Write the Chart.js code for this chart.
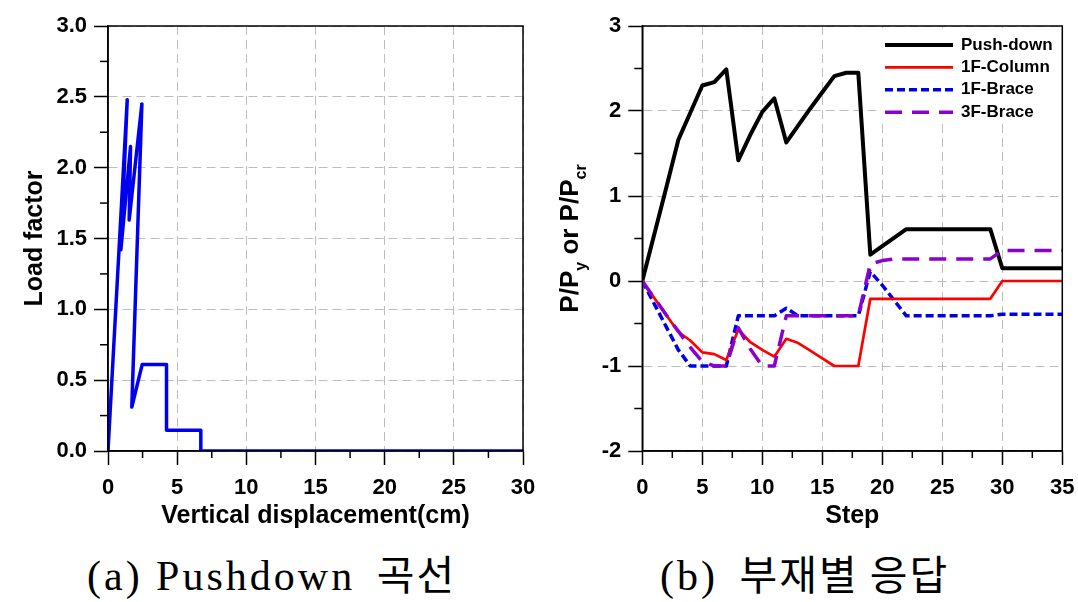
<!DOCTYPE html>
<html>
<head>
<meta charset="utf-8">
<script src="https://cdn.jsdelivr.net/npm/chart.js@4/dist/chart.umd.min.js"></script>
<style>
  body { margin: 0; background: #fff; width: 1078px; height: 602px; position: relative; overflow: hidden; }
  canvas { position: absolute; top: 0; }
  #leftChart { left: 0; }
  #rightChart { left: 540px; }
  .caption { position: absolute; top: 548px; font-family: "Liberation Serif", serif; font-size: 42px; line-height: 48px; letter-spacing: 3px; white-space: nowrap; color: #000; }
  .caption .ko { font-family: "Noto Sans CJK KR", sans-serif; font-size: 41px; letter-spacing: 2px; margin-left: 8px; }
</style>
</head>
<body>
<canvas id="leftChart" width="540" height="540"></canvas>
<canvas id="rightChart" width="538" height="540"></canvas>
<div class="caption" style="left:87px">(a) Pushdown <span class="ko">곡선</span></div>
<div class="caption" style="left:660px">(b) <span class="ko">부재별 응답</span></div>
<script>
// (a) pushdown curve: load factor vs vertical displacement
var dispCm     = [0, 1.39, 0.93, 1.63, 1.53, 2.45, 1.72, 2.47, 4.23, 4.23, 6.71, 6.71, 30];
var loadFactor = [0, 2.48, 1.42, 2.15, 1.63, 2.45, 0.31, 0.61, 0.61, 0.146, 0.146, 0, 0];
var dispTicks = [0, 5, 10, 15, 20, 25, 30];
var loadTicks = [0, 0.5, 1, 1.5, 2, 2.5, 3];

// (b) member responses per analysis step
var steps = [];
for (var i = 0; i <= 35; i++) steps.push(i);
var pushDown = [0, 0.55, 1.1, 1.66, 1.98, 2.30, 2.34, 2.49, 1.42, 1.72, 1.99, 2.15, 1.63, 1.83, 2.03, 2.22, 2.41, 2.45, 2.45,
  0.31, 0.41, 0.51, 0.61, 0.61, 0.61, 0.61, 0.61, 0.61, 0.61, 0.61, 0.15, 0.15, 0.15, 0.15, 0.15, 0.15];
var column1F = [0, -0.2, -0.4, -0.6, -0.7, -0.84, -0.86, -0.93, -0.57, -0.72, -0.81, -0.89, -0.68, -0.73, -0.82, -0.91, -1, -1, -1,
  -0.21, -0.21, -0.21, -0.21, -0.21, -0.21, -0.21, -0.21, -0.21, -0.21, -0.21, 0, 0, 0, 0, 0, 0];
var brace1F = [0, -0.27, -0.54, -0.81, -1, -1, -1, -1, -0.41, -0.41, -0.41, -0.41, -0.32, -0.41, -0.41, -0.41, -0.41, -0.41, -0.41,
  0.11, -0.05, -0.23, -0.41, -0.41, -0.41, -0.41, -0.41, -0.41, -0.41, -0.41, -0.39, -0.39, -0.39, -0.39, -0.39, -0.39];
var brace3F = [0, -0.2, -0.4, -0.59, -0.78, -0.95, -1, -1, -0.55, -0.8, -1, -1, -0.41, -0.41, -0.41, -0.41, -0.41, -0.41, -0.41,
  0.2, 0.24, 0.26, 0.26, 0.26, 0.26, 0.26, 0.26, 0.26, 0.26, 0.26, 0.36, 0.36, 0.36, 0.36, 0.36, 0.36];
var seriesNames = ['Push-down', '1F-Column', '1F-Brace', '3F-Brace'];
var stepTicks = [0, 5, 10, 15, 20, 25, 30, 35];
var ratioTicks = [-2, -1, 0, 1, 2, 3];
var ratioTitle = [['P/P', 0], ['y', 1], [' or P/P', 0], ['cr', 1]];

var FONT = '"Liberation Sans", Arial, sans-serif';
var tickFont = { family: FONT, size: 22, weight: 'bold' };
var titleFont = { family: FONT, size: 25, weight: 'bold', lineHeight: 1.2 };

function xy(xs, ys) {
  return xs.map(function (x, i) { return { x: x, y: ys[i] }; });
}

function fixedTicks(values) {
  return function (scale) {
    scale.ticks = values.map(function (v) { return { value: v }; });
  };
}

function axis(pos, min, max, ticks, size, fmt, title) {
  return {
    type: 'linear',
    position: pos,
    min: min,
    max: max,
    afterBuildTicks: fixedTicks(ticks),
    afterFit: function (s) {
      if (pos === 'left') s.width = size; else s.height = size;
      // keep the plot box where the layout padding puts it
      s.paddingLeft = 0; s.paddingRight = 0; s.paddingTop = 0; s.paddingBottom = 0;
    },
    grid: { color: '#bdbdbd', lineWidth: 1, tickLength: 14, tickColor: '#000', tickWidth: 1.5 },
    border: { color: '#000', width: 1.5, dash: [9, 5] },
    ticks: { color: '#000', font: tickFont, padding: pos === 'left' ? 7 : 10, maxRotation: 0, autoSkip: false, callback: fmt },
    title: title
  };
}

// short ticks half way between the labelled ones
var minorTicks = {
  id: 'minorTicks',
  afterDraw: function (chart) {
    var ctx = chart.ctx;
    ctx.save();
    ctx.strokeStyle = '#000';
    ctx.lineWidth = 1.5;
    ['x', 'y'].forEach(function (id) {
      var s = chart.scales[id];
      for (var i = 0; i < s.ticks.length - 1; i++) {
        var p = s.getPixelForValue((s.ticks[i].value + s.ticks[i + 1].value) / 2);
        ctx.beginPath();
        if (id === 'y') { ctx.moveTo(s.right, p); ctx.lineTo(s.right - 8, p); }
        else { ctx.moveTo(p, s.top); ctx.lineTo(p, s.top + 7); }
        ctx.stroke();
      }
    });
    ctx.restore();
  }
};

var frame = {
  id: 'frame',
  afterDraw: function (chart) {
    var a = chart.chartArea, ctx = chart.ctx;
    ctx.save();
    ctx.strokeStyle = '#000';
    ctx.lineWidth = 1.5;
    ctx.strokeRect(a.left, a.top, a.right - a.left, a.bottom - a.top);
    ctx.restore();
  }
};

var boxLegend = {
  id: 'boxLegend',
  afterDatasetsDraw: function (chart) {
    var ctx = chart.ctx;
    ctx.save();
    ctx.fillStyle = '#fff';
    ctx.fillRect(338, 28, 183, 96);
    chart.data.datasets.forEach(function (ds, i) {
      var y = 45 + i * 22.4;
      ctx.strokeStyle = ds.borderColor;
      ctx.lineWidth = ds.borderWidth;
      ctx.setLineDash(ds.borderDash || []);
      ctx.beginPath();
      ctx.moveTo(345, y);
      ctx.lineTo(413, y);
      ctx.stroke();
      ctx.setLineDash([]);
      ctx.fillStyle = '#000';
      ctx.font = 'bold 17px ' + FONT;
      ctx.textBaseline = 'middle';
      ctx.fillText(ds.label, 421, y);
    });
    ctx.restore();
  }
};

// y title with subscripts: P/Py or P/Pcr
var ratioYTitle = {
  id: 'ratioYTitle',
  afterDraw: function (chart) {
    var ctx = chart.ctx, a = chart.chartArea;
    var big = 'bold 26px ' + FONT, small = 'bold 16px ' + FONT;
    ctx.save();
    var total = 0;
    ratioTitle.forEach(function (p) {
      ctx.font = p[1] ? small : big;
      total += ctx.measureText(p[0]).width;
    });
    ctx.translate(38, (a.top + a.bottom) / 2);
    ctx.rotate(-Math.PI / 2);
    ctx.fillStyle = '#000';
    ctx.textBaseline = 'alphabetic';
    ctx.textAlign = 'left';
    var x = -total / 2;
    ratioTitle.forEach(function (p) {
      ctx.font = p[1] ? small : big;
      ctx.fillText(p[0], x, p[1] ? 8 : 0);
      x += ctx.measureText(p[0]).width;
    });
    ctx.restore();
  }
};

window.addEventListener('load', function () {
  var leftChart = new Chart(document.getElementById('leftChart').getContext('2d'), {
    type: 'line',
    data: {
      datasets: [{
        label: 'Pushdown',
        data: xy(dispCm, loadFactor),
        borderColor: '#0000f0',
        borderWidth: 3.5,
        pointRadius: 0,
        tension: 0,
        borderJoinStyle: 'round'
      }]
    },
    options: {
      responsive: false,
      animation: false,
      layout: { padding: { top: 26, right: 17, bottom: 0, left: 0 } },
      plugins: { legend: { display: false }, tooltip: { enabled: false } },
      scales: {
        x: axis('bottom', 0, 30, dispTicks, 89, function (v) { return String(v); },
          { display: true, text: 'Vertical displacement(cm)', color: '#000', font: titleFont, padding: { top: 0, bottom: 9 } }),
        y: axis('left', 0, 3, loadTicks, 108, function (v) { return v.toFixed(1); },
          { display: true, text: 'Load factor', color: '#000', font: titleFont, padding: { top: 20, bottom: 0 } })
      }
    },
    plugins: [minorTicks, frame]
  });

  var rightChart = new Chart(document.getElementById('rightChart').getContext('2d'), {
    type: 'line',
    data: {
      datasets: [
        { label: seriesNames[0], data: xy(steps, pushDown), borderColor: '#000000', borderWidth: 4, order: 1 },
        { label: seriesNames[1], data: xy(steps, column1F), borderColor: '#ff0000', borderWidth: 2.7, order: 2 },
        { label: seriesNames[2], data: xy(steps, brace1F), borderColor: '#0000e6', borderWidth: 3.5, borderDash: [8, 4], order: 3 },
        { label: seriesNames[3], data: xy(steps, brace3F), borderColor: '#8a00cc', borderWidth: 3.5, borderDash: [17, 10], order: 0 }
      ].map(function (ds) {
        ds.pointRadius = 0;
        ds.tension = 0;
        ds.borderJoinStyle = 'round';
        return ds;
      })
    },
    options: {
      responsive: false,
      animation: false,
      layout: { padding: { top: 26, right: 15.7, bottom: 0, left: 0 } },
      plugins: { legend: { display: false }, tooltip: { enabled: false } },
      scales: {
        x: axis('bottom', 0, 35, stepTicks, 89, function (v) { return String(v); },
          { display: true, text: 'Step', color: '#000', font: titleFont, padding: { top: 0, bottom: 9 } }),
        y: axis('left', -2, 3, ratioTicks, 102.3, function (v) { return String(v); }, { display: false })
      }
    },
    plugins: [minorTicks, boxLegend, frame, ratioYTitle]
  });
});
</script>
</body>
</html>
